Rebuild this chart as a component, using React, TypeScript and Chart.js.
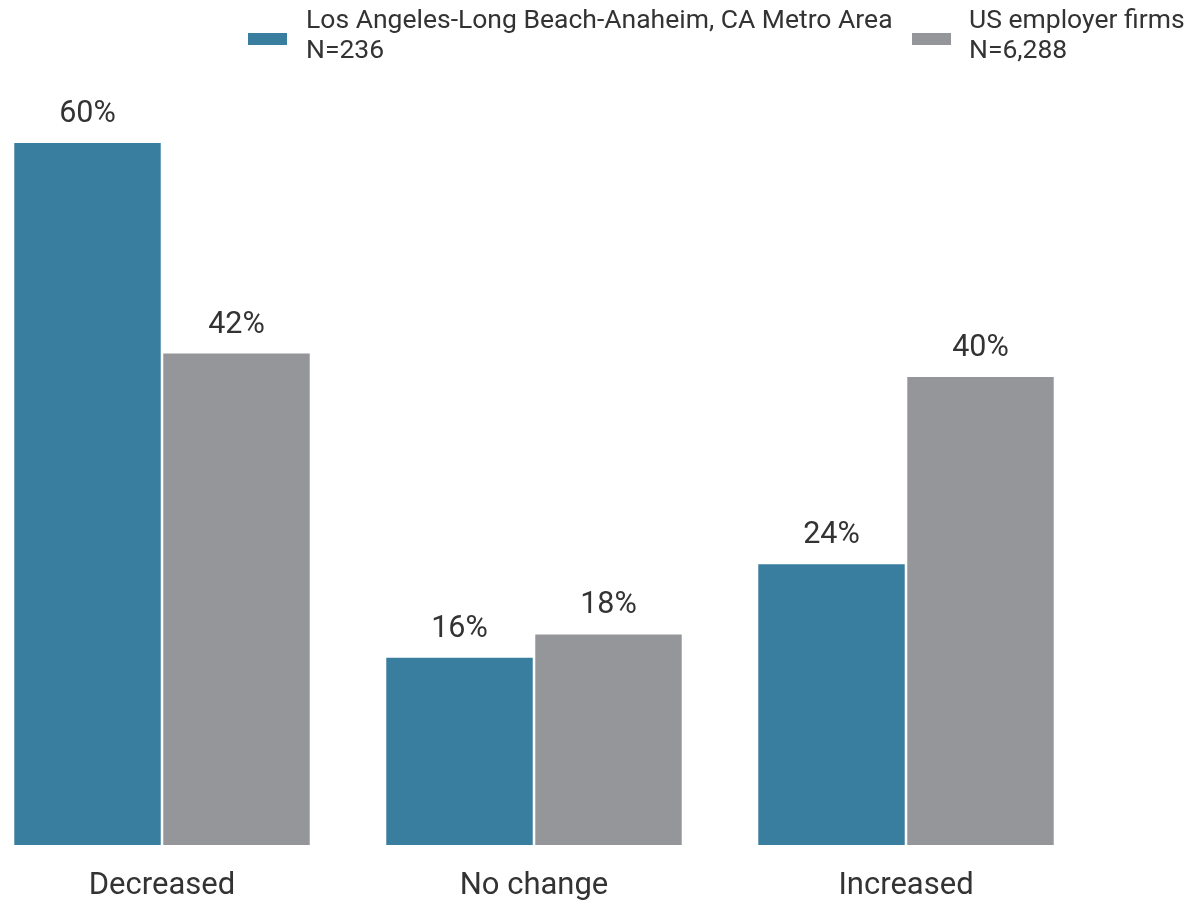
import React, { useEffect, useRef } from "react";
import { Chart, registerables } from "chart.js";

Chart.register(...registerables);

const categories = ["Decreased", "No change", "Increased"];
const laValues = [60, 16, 24];
const usValues = [42, 18, 40];
const seriesNames = [
  ["Los Angeles-Long Beach-Anaheim, CA Metro Area", "N=236"],
  ["US employer firms", "N=6,288"],
];
const colors = ["#397d9f", "#959699"];
const FONT = "Roboto, 'Noto Sans', sans-serif";
const TEXT = "#333333";

const valueLabels = {
  id: "valueLabels",
  afterDatasetsDraw(chart: any) {
    const ctx = chart.ctx;
    ctx.save();
    ctx.font = `30.5px ${FONT}`;
    ctx.fillStyle = TEXT;
    ctx.textAlign = "center";
    ctx.textBaseline = "alphabetic";
    chart.data.datasets.forEach((ds: any, i: number) => {
      const meta = chart.getDatasetMeta(i);
      meta.data.forEach((bar: any, j: number) => {
        ctx.fillText(`${ds.data[j]}%`, bar.x, bar.y - 21);
      });
    });
    ctx.restore();
  },
};

export default function App() {
  const ref = useRef<HTMLCanvasElement>(null);
  useEffect(() => {
    if (!ref.current) return;
    const chart = new Chart(ref.current, {
      type: "bar",
      data: {
        labels: categories,
        datasets: [
          { label: seriesNames[0].join(" "), data: laValues, backgroundColor: colors[0] },
          { label: seriesNames[1].join(" "), data: usValues, backgroundColor: colors[1] },
        ],
      },
      options: {
        animation: false,
        responsive: false,
        maintainAspectRatio: false,
        categoryPercentage: 0.801,
        barPercentage: 0.983,
        layout: { padding: { top: 143, left: 0, right: 0, bottom: 0 } },
        plugins: { legend: { display: false }, tooltip: { enabled: false } },
        scales: {
          x: {
            grid: { display: false },
            border: { display: false },
            ticks: { color: TEXT, font: { family: FONT, size: 31 }, padding: 15 },
            afterFit: (s: any) => {
              s.height = 56;
            },
          },
          y: { display: false, min: 0, max: 60 },
        },
      },
      plugins: [valueLabels],
    });
    return () => chart.destroy();
  }, []);

  const legendItem = (i: number, boxLeft: number, textLeft: number) => (
    <React.Fragment key={i}>
      <div
        style={{
          position: "absolute",
          left: boxLeft,
          top: 33,
          width: 39,
          height: 12,
          background: colors[i],
        }}
      />
      <div
        style={{
          position: "absolute",
          left: textLeft,
          top: 4,
          font: `26.5px ${FONT}`,
          lineHeight: "30px",
          color: TEXT,
          whiteSpace: "nowrap",
        }}
      >
        {seriesNames[i].map((t, k) => (
          <div key={k}>{t}</div>
        ))}
      </div>
    </React.Fragment>
  );

  return (
    <div
      style={{
        position: "fixed",
        left: 0,
        top: 0,
        width: 1192,
        height: 901,
        overflow: "hidden",
        background: "#ffffff",
      }}
    >
      <canvas
        ref={ref}
        width={1116}
        height={901}
        style={{ position: "absolute", left: -24, top: 0, width: 1116, height: 901 }}
      />
      {legendItem(0, 248, 306)}
      {legendItem(1, 912, 969)}
    </div>
  );
}
